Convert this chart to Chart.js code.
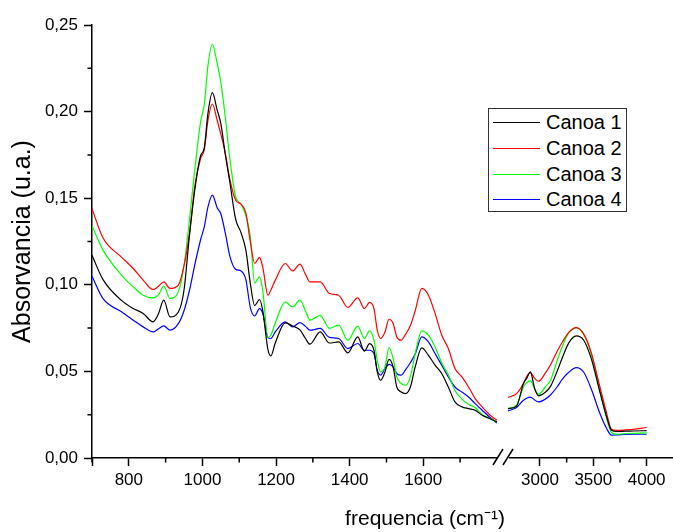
<!DOCTYPE html>
<html>
<head>
<meta charset="utf-8">
<script src="https://cdn.jsdelivr.net/npm/chart.js@4.4.0/dist/chart.umd.min.js"></script>
<style>
  body { margin: 0; background: #fff; }
  #wrap { position: relative; width: 673px; height: 532px; }
  #legend {
    position: absolute; left: 488px; top: 108px; width: 139px; height: 104px;
    box-sizing: border-box; border: 1px solid #333; background: #fff; padding-top: 1px;
    font-family: "Liberation Sans", Arial, sans-serif; font-size: 20px; color: #000;
  }
  #legend .row { display: flex; align-items: center; height: 25.7px; }
  #legend .swatch { width: 47px; height: 0; border-top: 1.5px solid; margin-left: 4px; margin-right: 6px; }
</style>
</head>
<body>
<div id="wrap"><canvas id="chart-ftir"></canvas><div id="legend"></div></div>
<script>
// wavenumbers (cm-1), left and right part of the broken axis
const waveLeft = [700, 730, 780, 812, 839, 866, 880, 895, 912, 935,
  950, 965, 980, 995, 1005, 1015, 1027, 1040, 1050, 1062,
  1075, 1090, 1105, 1118, 1130, 1142, 1155, 1164, 1178, 1186,
  1198, 1225, 1245, 1265, 1280, 1292, 1320, 1345, 1370, 1395,
  1422, 1440, 1454, 1466, 1475, 1484, 1496, 1507, 1518, 1528,
  1540, 1552, 1565, 1578, 1596, 1614, 1632, 1650, 1668, 1686,
  1705, 1723, 1741, 1760, 1780, 1800];
const waveRight = [2700, 2780, 2845, 2875, 2910, 2950, 2985, 3050, 3100, 3160,
  3210, 3270, 3340, 3410, 3480, 3560, 3625, 3670, 3720, 3800, 3875, 4000];

const seriesNames = ['Canoa 1', 'Canoa 2', 'Canoa 3', 'Canoa 4'];
const seriesColors = ['#000000', '#ff0000', '#00ff00', '#0000ff'];

const canoa1Left = [.117, .103, .091, .0863, .0835, .0786, .083, .0911, .0815, .0844,
  .097, .129, .156, .1745, .179, .199, .2109, .201, .193, .1755,
  .1585, .138, .130, .12, .101, .088, .0915, .085, .0625, .059,
  .0665, .078, .0762, .074, .069, .0657, .0728, .0664, .067, .0607,
  .0699, .0617, .066, .0622, .0497, .0449, .0497, .0569, .0526, .041,
  .0381, .0372, .041, .0526, .0636, .0593, .0536, .0488, .041, .0324,
  .0295, .0285, .0276, .0247, .0228, .0208];
const canoa2Left = [.144, .127, .116, .1094, .1027, .0973, .099, .1017, .0979, .100,
  .111, .130, .158, .173, .178, .195, .2044, .195, .187, .176,
  .1605, .149, .1465, .1415, .125, .1123, .1158, .110, .094, .097,
  .1027, .1123, .108, .1119, .106, .1017, .1017, .095, .094, .0869,
  .0925, .0863, .0898, .0863, .0738, .069, .0728, .0801, .0777, .0699,
  .068, .0715, .0765, .085, .0979, .094, .0835, .071, .0632, .0517,
  .0468, .041, .0343, .0295, .025, .0218];
const canoa3Left = [.134, .12, .1056, .0988, .094, .0925, .094, .0992, .0921, .0962,
  .111, .138, .168, .194, .204, .2265, .2389, .228, .217, .197,
  .172, .151, .1465, .140, .128, .101, .1046, .0965, .0695, .071,
  .078, .0901, .0872, .0911, .085, .0796, .0824, .0748, .0767, .068,
  .0761, .069, .0734, .068, .0565, .0497, .0526, .0638, .0574, .0468,
  .043, .042, .047, .0603, .0734, .0709, .0641, .055, .048, .039,
  .034, .031, .029, .025, .023, .0208];
const canoa4Left = [.105, .092, .0844, .0796, .0757, .0728, .0745, .0763, .0738, .0777,
  .085, .097, .1123, .126, .1335, .145, .1518, .1445, .141, .130,
  .1161, .109, .108, .103, .087, .082, .0863, .0834, .0695, .069,
  .0728, .0786, .0757, .0782, .076, .0738, .0748, .0696, .069, .0632,
  .0661, .0622, .0622, .0603, .0507, .0478, .0517, .0541, .0526, .0488,
  .0478, .051, .055, .060, .0699, .067, .0603, .0536, .0468, .041,
  .0381, .0352, .0314, .0276, .0237, .0202];

const canoa1Right = [.0285, .0299, .043, .046, .0497, .0401, .036, .038, .0415, .050,
  .058, .0665, .0705, .068, .0575, .0385, .0237, .016, .0153, .0155, .0156, .0158];
const canoa2Right = [.0349, .0372, .043, .047, .0491, .046, .0443, .049, .054, .0615,
  .067, .0725, .0753, .0715, .061, .0415, .0257, .0166, .016, .0162, .0165, .0176];
const canoa3Right = [.0285, .0305, .041, .0435, .0445, .040, .0368, .041, .045, .056,
  .0645, .0722, .0753, .0715, .060, .0395, .0228, .0147, .0137, .014, .0142, .0145];
const canoa4Right = [.0272, .0291, .0333, .0345, .0352, .0335, .0324, .034, .0365, .041,
  .0455, .0495, .0522, .0495, .040, .026, .017, .0132, .0133, .0136, .0137, .0137];

const yTicks = [0, 0.05, 0.10, 0.15, 0.20, 0.25];

const leftSeries = [canoa1Left, canoa2Left, canoa3Left, canoa4Left];
const rightSeries = [canoa1Right, canoa2Right, canoa3Right, canoa4Right];

function points(xs, ys) {
  return xs.map((x, i) => ({x: x, y: ys[i]}));
}

const datasets = [];
seriesNames.forEach((name, i) => {
  datasets.push({label: name, data: points(waveLeft, leftSeries[i]), xAxisID: 'x1',
    borderColor: seriesColors[i], borderWidth: 1.2, pointRadius: 0, cubicInterpolationMode: 'monotone'});
});
seriesNames.forEach((name, i) => {
  datasets.push({label: name + ' ', data: points(waveRight, rightSeries[i]), xAxisID: 'x2',
    borderColor: seriesColors[i], borderWidth: 1.2, pointRadius: 0, cubicInterpolationMode: 'monotone'});
});

const majorY = v => yTicks.some(t => Math.abs(t - v) < 1e-6);
const majorX1 = v => v === 700 || (v % 200 === 0 && v <= 1600);
const minorX1 = v => v % 200 === 100 && v <= 1700;
const majorX2 = v => v % 500 === 0;
const minorX2 = v => v >= 3250 && v % 500 === 250;

const tickFont = {family: '"Liberation Sans", Arial, sans-serif', size: 17};

// x axes: fixed height, no extra side padding for labels
const fitX = axis => { axis.height = 74; axis.paddingLeft = 0; axis.paddingRight = 0; };

// short minor ticks and the axis break marks
const axisExtras = {
  id: 'axisExtras',
  afterDraw(chart) {
    const ctx = chart.ctx;
    const x1 = chart.scales.x1, x2 = chart.scales.x2, y = chart.scales.y;
    ctx.save();
    ctx.strokeStyle = '#000';
    ctx.lineWidth = 1.5;
    ctx.beginPath();
    x1.ticks.forEach(t => {
      if (minorX1(t.value)) { const p = x1.getPixelForValue(t.value); ctx.moveTo(p, x1.top); ctx.lineTo(p, x1.top + 4.5); }
    });
    x2.ticks.forEach(t => {
      if (minorX2(t.value)) { const p = x2.getPixelForValue(t.value); ctx.moveTo(p, x2.top); ctx.lineTo(p, x2.top + 4.5); }
    });
    y.ticks.forEach(t => {
      if (!majorY(t.value)) { const p = y.getPixelForValue(t.value); ctx.moveTo(y.right - 4.5, p); ctx.lineTo(y.right, p); }
    });
    ctx.stroke();
    const bx = x1.right, by = chart.chartArea.bottom;
    ctx.fillStyle = '#fff';
    ctx.fillRect(bx - 7.5, by - 3, 11.5, 6);
    ctx.beginPath();
    ctx.moveTo(bx - 12, by + 7); ctx.lineTo(bx - 2, by - 9);
    ctx.moveTo(bx - 2, by + 7); ctx.lineTo(bx + 8, by - 9);
    ctx.stroke();
    ctx.restore();
  }
};

window.onload = function(){

    let myChart = new Chart(
        document.getElementById('chart-ftir'),
        {
            type: 'line',
            data: { datasets: datasets },
            plugins: [axisExtras],
            options: {
                responsive: true,
                maintainAspectRatio: false,
                animation: false,
                events: [],
                layout: { padding: { top: 25, right: 0, bottom: 0, left: 0 } },
                plugins: {
                    legend: { display: false },
                    tooltip: { enabled: false }
                },
                scales: {
                    x1: {
                        type: 'linear', position: 'bottom', stack: 'freq', stackWeight: 413,
                        min: 700, max: 1822,
                        afterFit: fitX,
                        border: { display: true, color: '#000', width: 1.5 },
                        grid: { drawOnChartArea: false, tickLength: 8, tickWidth: 1.5,
                            tickColor: c => majorX1(c.tick.value) ? '#000' : 'rgba(0,0,0,0)' },
                        ticks: { stepSize: 100, includeBounds: false, autoSkip: false, maxRotation: 0,
                            color: '#000', font: tickFont, padding: 4,
                            callback: v => (majorX1(v) && v !== 700) ? String(v) : '' },
                        title: { display: true, text: 'frequencia (cm⁻¹)', align: 'end', color: '#000',
                            font: {family: '"Liberation Sans", Arial, sans-serif', size: 21},
                            padding: { top: 0, bottom: 0 } }
                    },
                    x2: {
                        type: 'linear', position: 'bottom', stack: 'freq', stackWeight: 168,
                        min: 2672, max: 4247,
                        afterFit: fitX,
                        border: { display: true, color: '#000', width: 1.5 },
                        grid: { drawOnChartArea: false, tickLength: 8, tickWidth: 1.5,
                            tickColor: c => majorX2(c.tick.value) ? '#000' : 'rgba(0,0,0,0)' },
                        ticks: { stepSize: 250, includeBounds: false, autoSkip: false, maxRotation: 0,
                            color: '#000', font: tickFont, padding: 4,
                            callback: v => majorX2(v) ? String(v) : '' }
                    },
                    y: {
                        type: 'linear', position: 'left', min: 0, max: 0.25,
                        afterFit: axis => { axis.width = 92; },
                        border: { display: true, color: '#000', width: 1.5 },
                        grid: { drawOnChartArea: false, tickLength: 8, tickWidth: 1.5,
                            tickColor: c => majorY(c.tick.value) ? '#000' : 'rgba(0,0,0,0)' },
                        ticks: { stepSize: 0.025, autoSkip: false, color: '#000', font: tickFont, padding: 6,
                            callback: v => majorY(v) ? v.toFixed(2).replace('.', ',') : '' },
                        title: { display: true, text: 'Absorvancia (u.a.)', color: '#000',
                            font: {family: '"Liberation Sans", Arial, sans-serif', size: 25},
                            padding: { top: 8, bottom: 0 } }
                    }
                }
            }
        }
    );

    const legend = document.getElementById('legend');
    seriesNames.forEach((name, i) => {
        const row = document.createElement('div');
        row.className = 'row';
        row.innerHTML = '<span class="swatch" style="border-color:' + seriesColors[i] + '"></span><span>' + name + '</span>';
        legend.appendChild(row);
    });
}
</script>
</body>
</html>
